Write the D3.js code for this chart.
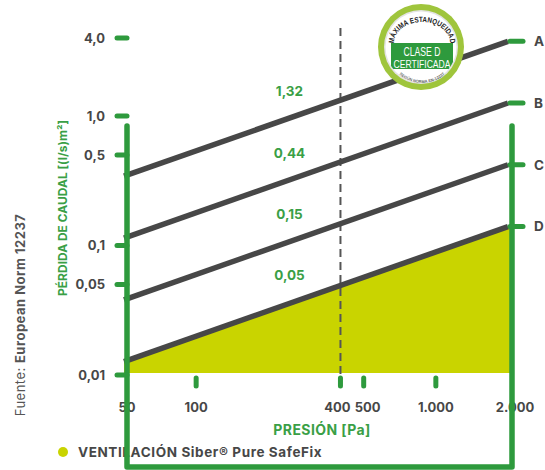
<!DOCTYPE html>
<html>
<head>
<meta charset="utf-8">
<script src="https://cdn.jsdelivr.net/npm/d3@7"></script>
<style>
  html, body { margin: 0; padding: 0; background: #fff; }
  svg { display: block; }
</style>
</head>
<body>
<div id="chart"></div>
<script>
// datos
const pressureTicks = [50, 100, 400, 500, 1000, 2000];
const pressureLabels = ["50", "100", "400", "500", "1.000", "2.000"];
const lossTicks = [4, 1, 0.5, 0.1, 0.05, 0.01];
const lossLabels = ["4,0", "1,0", "0,5", "0,1", "0,05", "0,01"];
const classes = ["A", "B", "C", "D"];
const linePressures = [50, 2000];
const lossAt50 = [0.343, 0.114, 0.038, 0.0127];
const lossAt2000 = [3.77, 1.26, 0.42, 0.14];
const refPressure = 400;
const refLabels = ["1,32", "0,44", "0,15", "0,05"];
const refValues = [1.32, 0.44, 0.15, 0.05];
const legendLabel = "VENTILACIÓN Siber® Pure SafeFix";

const width = 545, height = 470;
const green = "#2e9a3d";
const textGreen = "#3a9f46";
const grey = "#474747";
const yellow = "#c9d400";
const font = "Inter, 'Open Sans', sans-serif";

const svg = d3.select("#chart").append("svg")
  .attr("width", width)
  .attr("height", height);

const x = d3.scaleLog().domain([50, 2000]).range([124, 508]);
const y = d3.scaleLog().domain([0.01, 4]).range([375, 38]);

const leftX = x(50) + 3, rightX = x(2000) + 4;
const frameTop = y(1) + 10, frameBottom = 467;

// lineas por clase
const series = classes.map((c, i) => ({
  name: c,
  points: [[linePressures[0], lossAt50[i]], [linePressures[1], lossAt2000[i]]]
}));
const line = d3.line().x(d => x(d[0])).y(d => y(d[1]));

// area amarilla bajo D
const area = d3.area()
  .x((d, i) => (i === 0 ? x(d[0]) : rightX))
  .y0(y(0.01) - 2)
  .y1(d => y(d[1]));
svg.append("path")
  .datum(series[3].points)
  .attr("d", area)
  .attr("fill", yellow);

// linea discontinua en 400 Pa
svg.append("line")
  .attr("x1", x(refPressure)).attr("x2", x(refPressure))
  .attr("y1", 28).attr("y2", y(0.01))
  .attr("stroke", "#555")
  .attr("stroke-width", 2)
  .attr("stroke-dasharray", "8,5");

svg.append("g")
  .selectAll("path")
  .data(series)
  .join("path")
  .attr("d", d => line(d.points))
  .attr("fill", "none")
  .attr("stroke", grey)
  .attr("stroke-width", 5.5);

// valores en 400 Pa
svg.append("g")
  .selectAll("text")
  .data(refValues)
  .join("text")
  .attr("x", x(refPressure) - 51)
  .attr("y", d => y(d) - 4)
  .attr("text-anchor", "middle")
  .attr("font-family", font)
  .attr("font-weight", 700)
  .attr("font-size", 13.5)
  .attr("fill", textGreen)
  .text((d, i) => refLabels[i]);

// etiquetas eje y
svg.append("g")
  .selectAll("text")
  .data(lossTicks)
  .join("text")
  .attr("x", 105)
  .attr("y", d => y(d))
  .attr("dy", "0.36em")
  .attr("text-anchor", "end")
  .attr("font-family", font)
  .attr("font-weight", 700)
  .attr("font-size", 13)
  .attr("fill", grey)
  .text((d, i) => lossLabels[i]);

// etiquetas eje x
svg.append("g")
  .selectAll("text")
  .data(pressureTicks)
  .join("text")
  .attr("x", d => (d === 50 ? leftX : d === 2000 ? rightX + 3 : x(d)))
  .attr("dx", d => (d === 400 ? -3 : d === 500 ? 4 : 0))
  .attr("y", 412)
  .attr("text-anchor", "middle")
  .attr("font-family", font)
  .attr("font-weight", 700)
  .attr("font-size", 13)
  .attr("fill", grey)
  .text((d, i) => pressureLabels[i]);

svg.append("text")
  .attr("x", 322).attr("y", 435)
  .attr("text-anchor", "middle")
  .attr("font-family", font)
  .attr("font-weight", 700)
  .attr("font-size", 14)
  .attr("letter-spacing", 0.4)
  .attr("fill", textGreen)
  .text("PRESIÓN [Pa]");

svg.append("text")
  .attr("transform", "translate(67,208) rotate(-90)")
  .attr("text-anchor", "middle")
  .attr("font-family", font)
  .attr("font-weight", 700)
  .attr("font-size", 12)
  .attr("fill", textGreen)
  .text("PÉRDIDA DE CAUDAL [(l/s)m²]");

svg.append("text")
  .attr("transform", "translate(25,315) rotate(-90)")
  .attr("text-anchor", "middle")
  .attr("font-family", font)
  .attr("font-size", 13)
  .attr("letter-spacing", 0.5)
  .attr("fill", "#555")
  .call(t => {
    t.append("tspan").text("Fuente: ");
    t.append("tspan").attr("font-weight", 700).text("European Norm 12237");
  });

// leyenda
svg.append("circle")
  .attr("cx", 63).attr("cy", 452).attr("r", 5)
  .attr("fill", yellow);
svg.append("text")
  .attr("x", 78).attr("y", 457)
  .attr("font-family", font)
  .attr("font-weight", 700)
  .attr("font-size", 13.5)
  .attr("letter-spacing", 0.6)
  .attr("fill", grey)
  .text(legendLabel);

// marco verde
svg.append("path")
  .attr("d", `M${leftX},${frameTop} L${leftX},${frameBottom} L${rightX},${frameBottom} L${rightX},${frameTop}`)
  .attr("fill", "none")
  .attr("stroke", green)
  .attr("stroke-width", 5.5)
  .attr("stroke-linecap", "round")
  .attr("stroke-linejoin", "round");

const tickG = svg.append("g")
  .attr("stroke", green)
  .attr("stroke-width", 5)
  .attr("stroke-linecap", "round");
tickG.selectAll(".ytick")
  .data(lossTicks)
  .join("line")
  .attr("x1", leftX - 10).attr("x2", leftX)
  .attr("y1", d => y(d)).attr("y2", d => y(d));
tickG.selectAll(".xtick")
  .data(pressureTicks.slice(1, -1))
  .join("line")
  .attr("x1", d => x(d)).attr("x2", d => x(d))
  .attr("y1", y(0.01) + 3).attr("y2", y(0.01) + 11);
tickG.selectAll(".rtick")
  .data(lossAt2000)
  .join("line")
  .attr("x1", x(2000) + 2).attr("x2", rightX + 11)
  .attr("y1", d => y(d)).attr("y2", d => y(d));

svg.append("g")
  .selectAll("text")
  .data(lossAt2000)
  .join("text")
  .attr("x", 534)
  .attr("y", d => y(d))
  .attr("dy", "0.36em")
  .attr("font-family", font)
  .attr("font-weight", 700)
  .attr("font-size", 13.5)
  .attr("fill", grey)
  .text((d, i) => classes[i]);

// sello
const badgeFont = "'Liberation Sans', Arial, sans-serif";
const badge = svg.append("g").attr("transform", "translate(421,47)");
badge.append("circle").attr("r", 43).attr("fill", "#9fc53c");
badge.append("circle").attr("r", 37).attr("fill", "#e4e4e4");
badge.append("circle").attr("r", 35.5).attr("fill", "#fff");
badge.append("clipPath").attr("id", "badge-clip")
  .append("circle").attr("r", 35.5);
badge.append("rect")
  .attr("x", -30).attr("y", -4).attr("width", 62).attr("height", 26)
  .attr("fill", "#2e9a3d")
  .attr("clip-path", "url(#badge-clip)");
badge.append("text")
  .attr("x", 1).attr("y", 9).attr("text-anchor", "middle")
  .attr("font-family", badgeFont)
  .attr("font-size", 12.5).attr("fill", "#fff")
  .attr("textLength", 37).attr("lengthAdjust", "spacingAndGlyphs")
  .text("CLASE D");
badge.append("text")
  .attr("x", 1).attr("y", 20.5).attr("text-anchor", "middle")
  .attr("font-family", badgeFont)
  .attr("font-size", 11).attr("fill", "#fff")
  .attr("textLength", 57).attr("lengthAdjust", "spacingAndGlyphs")
  .text("CERTIFICADA");
badge.append("path").attr("id", "arc-top")
  .attr("d", "M-27,-4 A28,21 0 1,1 29,-4")
  .attr("fill", "none");
badge.append("text")
  .attr("font-family", badgeFont)
  .attr("font-weight", 700).attr("font-size", 7.6).attr("fill", "#222")
  .append("textPath")
  .attr("href", "#arc-top")
  .attr("startOffset", "50%")
  .attr("text-anchor", "middle")
  .attr("textLength", 78)
  .attr("lengthAdjust", "spacingAndGlyphs")
  .text("MÁXIMA ESTANQUEIDAD");
badge.append("path").attr("id", "arc-bot")
  .attr("d", "M-22,27 A34,34 0 0,0 24,27")
  .attr("fill", "none");
badge.append("text")
  .attr("font-family", badgeFont)
  .attr("font-weight", 700).attr("font-size", 4).attr("fill", "#666")
  .append("textPath")
  .attr("href", "#arc-bot")
  .attr("startOffset", "50%")
  .attr("text-anchor", "middle")
  .text("SEGÚN NORMA EN-12237");
</script>
</body>
</html>
